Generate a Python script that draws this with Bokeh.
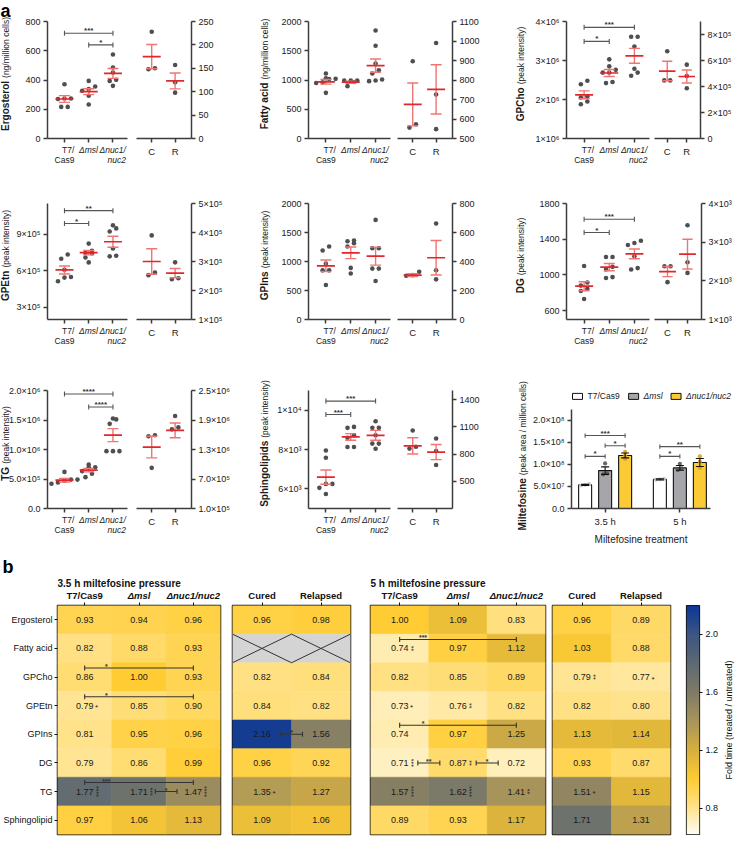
import math
from math import pi
import numpy as np
from bokeh.plotting import figure
from bokeh.layouts import row, column
from bokeh.models import Range1d, FixedTicker, ColumnDataSource, LinearColorMapper
from bokeh.core.properties import value
from bokeh.embed import file_html
from bokeh.resources import INLINE

NAN = float("nan")
FONT = "Liberation Sans"

# ---------------- data: panel a (scatter panels) ----------------
STRAIN_TICK_LABELS = ["T7/\nCas9", "Δmsl", "Δnuc1/\nnuc2"]
STRAIN_TICK_STYLES = ["normal", "italic", "italic"]
CR_TICK_LABELS = ["C", "R"]

ERG_LEFT_TICKS = [0, 200, 400, 600, 800]
ERG_LEFT_LABELS = ["0", "200", "400", "600", "800"]
ERG_RIGHT_TICKS = [0, 50, 100, 150, 200, 250]
ERG_RIGHT_LABELS = ["0", "50", "100", "150", "200", "250"]
ERG_STRAIN_POINTS = [[371, 273, 273, 270, 216, 216], [394, 356, 338, 326, 292, 232], [574, 485, 451, 401, 394, 360]]
ERG_STRAIN_MEAN = [270, 320, 445]
ERG_STRAIN_SEM = [23, 20, 34]
ERG_CR_POINTS = [[228, 150, 148], [157, 120, 98]]
ERG_CR_MEAN = [175, 123]
ERG_CR_SEM = [26, 17]
ERG_SIG = [(0, 2, "***", 720), (1, 2, "*", 640)]

FA_LEFT_TICKS = [0, 500, 1000, 1500, 2000]
FA_LEFT_LABELS = ["0", "500", "1000", "1500", "2000"]
FA_RIGHT_TICKS = [500, 600, 700, 800, 900, 1000, 1100]
FA_RIGHT_LABELS = ["500", "600", "700", "800", "900", "1000", "1100"]
FA_STRAIN_POINTS = [[1110, 1030, 1020, 1015, 960, 950, 780], [990, 990, 990, 965, 895],
                    [1847, 1586, 1280, 1167, 1110, 1008, 991, 980]]
FA_STRAIN_MEAN = [969, 963, 1246]
FA_STRAIN_SEM = [40, 18, 113]
FA_CR_POINTS = [[896, 573, 556], [990, 726, 548]]
FA_CR_MEAN = [675, 752]
FA_CR_SEM = [110, 126]
FA_SIG = []

GPC_LEFT_TICKS = [1e6, 2e6, 3e6, 4e6]
GPC_LEFT_LABELS = ["1×10⁶", "2×10⁶", "3×10⁶", "4×10⁶"]
GPC_RIGHT_TICKS = [0, 2e5, 4e5, 6e5, 8e5]
GPC_RIGHT_LABELS = ["0", "2×10⁵", "4×10⁵", "6×10⁵", "8×10⁵"]
GPC_STRAIN_POINTS = [[2.48e6, 2.39e6, 2.08e6, 2.05e6, 1.95e6, 1.88e6],
                     [3.03e6, 2.85e6, 2.76e6, 2.69e6, 2.69e6, 2.45e6, 2.42e6],
                     [3.61e6, 3.61e6, 3.36e6, 2.79e6, 2.69e6, 2.61e6]]
GPC_STRAIN_MEAN = [2.12e6, 2.68e6, 3.12e6]
GPC_STRAIN_SEM = [0.1e6, 0.09e6, 0.19e6]
GPC_CR_POINTS = [[6.71e5, 4.47e5, 4.47e5], [5.68e5, 4.8e5, 3.87e5]]
GPC_CR_MEAN = [5.19e5, 4.77e5]
GPC_CR_SEM = [0.75e5, 0.5e5]
GPC_SIG = [(0, 2, "***", 3.85e6), (0, 1, "*", 3.49e6)]

GPE_LEFT_TICKS = [3e5, 6e5, 9e5]
GPE_LEFT_LABELS = ["3×10⁵", "6×10⁵", "9×10⁵"]
GPE_RIGHT_TICKS = [1e5, 2e5, 3e5, 4e5, 5e5]
GPE_RIGHT_LABELS = ["1×10⁵", "2×10⁵", "3×10⁵", "4×10⁵", "5×10⁵"]
GPE_STRAIN_POINTS = [[7.35e5, 7.0e5, 6.1e5, 5.5e5, 5.45e5, 5.15e5],
                     [8.25e5, 7.65e5, 7.5e5, 7.45e5, 7.1e5, 6.7e5],
                     [9.75e5, 9.5e5, 9.25e5, 7.85e5, 7.25e5, 7.2e5]]
GPE_STRAIN_MEAN = [6.08e5, 7.5e5, 8.4e5]
GPE_STRAIN_SEM = [0.33e5, 0.18e5, 0.45e5]
GPE_CR_POINTS = [[3.9e5, 2.62e5, 2.53e5], [2.97e5, 2.42e5, 2.39e5]]
GPE_CR_MEAN = [3.0e5, 2.6e5]
GPE_CR_SEM = [0.44e5, 0.16e5]
GPE_SIG = [(0, 2, "**", 10.96e5), (0, 1, "*", 9.9e5)]

GPI_LEFT_TICKS = [0, 500, 1000, 1500, 2000]
GPI_LEFT_LABELS = ["0", "500", "1000", "1500", "2000"]
GPI_RIGHT_TICKS = [0, 200, 400, 600, 800]
GPI_RIGHT_LABELS = ["0", "200", "400", "600", "800"]
GPI_STRAIN_POINTS = [[1258, 1190, 963, 847, 847, 595], [1360, 1348, 1314, 1258, 890, 793],
                     [1717, 1229, 1229, 878, 878, 663]]
GPI_STRAIN_MEAN = [925, 1150, 1093]
GPI_STRAIN_SEM = [100, 100, 155]
GPI_CR_POINTS = [[329, 306, 302], [662, 340, 277]]
GPI_CR_MEAN = [306, 426]
GPI_CR_SEM = [10, 119]
GPI_SIG = []

DG_LEFT_TICKS = [600, 1000, 1400, 1800]
DG_LEFT_LABELS = ["600", "1000", "1400", "1800"]
DG_RIGHT_TICKS = [1000, 2000, 3000, 4000]
DG_RIGHT_LABELS = ["1×10³", "2×10³", "3×10³", "4×10³"]
DG_STRAIN_POINTS = [[1100, 915, 880, 845, 820, 730], [1200, 1200, 1090, 1060, 975, 965],
                    [1383, 1357, 1335, 1209, 1076, 1061]]
DG_STRAIN_MEAN = [873, 1087, 1235]
DG_STRAIN_SEM = [50, 40, 55]
DG_CR_POINTS = [[2376, 2376, 1966], [3436, 2479, 2205]]
DG_CR_MEAN = [2239, 2692]
DG_CR_SEM = [130, 385]
DG_SIG = [(0, 2, "***", 1623), (0, 1, "*", 1475)]

TG_LEFT_TICKS = [0, 5e5, 1e6, 1.5e6, 2e6]
TG_LEFT_LABELS = ["0.0", "5.0×10⁵", "1.0×10⁶", "1.5×10⁶", "2.0×10⁶"]
TG_RIGHT_TICKS = [1e5, 7e5, 1.3e6, 1.9e6, 2.5e6]
TG_RIGHT_LABELS = ["1.0×10⁵", "7.0×10⁵", "1.3×10⁶", "1.9×10⁶", "2.5×10⁶"]
TG_STRAIN_POINTS = [[6.2e5, 4.9e5, 4.9e5, 4.7e5, 4.4e5, 4.2e5],
                    [7.46e5, 7.0e5, 7.0e5, 6.33e5, 5.88e5, 5.31e5],
                    [15.25e5, 15.1e5, 14.35e5, 9.72e5, 9.72e5, 9.72e5]]
TG_STRAIN_MEAN = [4.8e5, 6.5e5, 12.43e5]
TG_STRAIN_SEM = [0.3e5, 0.3e5, 1.1e5]
TG_CR_POINTS = [[15.9e5, 15.7e5, 9.27e5], [19.8e5, 17.5e5, 17.1e5]]
TG_CR_MEAN = [13.5e5, 16.9e5]
TG_CR_SEM = [2.2e5, 1.5e5]
TG_SIG = [(0, 2, "****", 1.94e6), (1, 2, "****", 1.72e6)]

SPH_LEFT_TICKS = [6000, 8000, 10000]
SPH_LEFT_LABELS = ["6×10³", "8×10³", "1×10⁴"]
SPH_RIGHT_TICKS = [500, 800, 1100, 1400]
SPH_RIGHT_LABELS = ["500", "800", "1100", "1400"]
SPH_STRAIN_POINTS = [[7950, 7580, 6250, 6250, 6050, 5740], [9150, 9100, 8720, 8600, 8130, 8130],
                     [9440, 9100, 9100, 8720, 8300, 8300, 8040]]
SPH_STRAIN_MEAN = [6596, 8638, 8723]
SPH_STRAIN_SEM = [360, 170, 250]
SPH_CR_POINTS = [[1060, 880, 860], [972, 833, 679]]
SPH_CR_MEAN = [890, 822]
SPH_CR_SEM = [90, 83]
SPH_SIG = [(0, 2, "***", 10460), (0, 1, "***", 9779)]

# ---------------- data: miltefosine bar chart ----------------
MILT_STRAINS = ["T7/Cas9", "Δmsl", "Δnuc1/nuc2"]
MILT_STRAIN_STYLES = ["normal", "italic", "italic"]
MILT_GROUPS = ["3.5 h", "5 h"]
MILT_MEAN = [[5.34e7, 6.58e7], [8.57e7, 9.19e7], [1.20e8, 1.04e8]]
MILT_SEM = [[0.12e7, 0.12e7], [0.85e7, 0.55e7], [0.55e7, 0.9e7]]
MILT_POINTS = [[[5.5e7, 5.35e7, 5.2e7], [6.7e7, 6.6e7, 6.5e7]],
               [[1.02e8, 7.95e7, 7.7e7], [1.01e8, 9.07e7, 8.7e7]],
               [[1.28e8, 1.2e8, 1.12e8], [1.18e8, 1.06e8, 9.2e7]]]
MILT_SIG = [(0, 0, 2, "***", 1.65e8), (0, 1, 2, "*", 1.42e8), (0, 0, 1, "*", 1.18e8),
            (1, 0, 2, "**", 1.40e8), (1, 0, 1, "*", 1.18e8)]
MILT_TICKS = [0, 5e7, 1e8, 1.5e8, 2e8]
MILT_TICK_LABELS = ["0.0", "5.0×10⁷", "1.0×10⁸", "1.5×10⁸", "2.0×10⁸"]
MILT_AXIS_MAX = 2.25e8

# ---------------- data: panel b heatmaps ----------------
LIPIDS = ["Ergosterol", "Fatty acid", "GPCho", "GPEtn", "GPIns", "DG", "TG", "Sphingolipid"]
HM_STRAIN_COLS = ["T7/Cas9", "Δmsl", "Δnuc1/nuc2"]
HM_STRAIN_STYLES = ["bold", "bold italic", "bold italic"]
HM_CR_COLS = ["Cured", "Relapsed"]
FOLD_35H_STRAINS = [[0.93, 0.94, 0.96], [0.82, 0.88, 0.93], [0.86, 1.00, 0.93], [0.79, 0.85, 0.90],
                    [0.81, 0.95, 0.96], [0.79, 0.86, 0.99], [1.77, 1.71, 1.47], [0.97, 1.06, 1.13]]
FOLD_35H_CR = [[0.96, 0.98], [NAN, NAN], [0.82, 0.84], [0.84, 0.82],
               [2.16, 1.56], [0.96, 0.92], [1.35, 1.27], [1.09, 1.06]]
FOLD_5H_STRAINS = [[1.00, 1.09, 0.83], [0.74, 0.97, 1.12], [0.82, 0.85, 0.89], [0.73, 0.76, 0.82],
                   [0.74, 0.97, 1.25], [0.71, 0.87, 0.72], [1.57, 1.62, 1.41], [0.89, 0.93, 1.17]]
FOLD_5H_CR = [[0.96, 0.89], [1.03, 0.88], [0.79, 0.77], [0.82, 0.80],
              [1.13, 1.14], [0.93, 0.87], [1.51, 1.15], [1.71, 1.31]]
# (block, row, col, stars)   blocks: 0=3.5h strains, 1=3.5h C/R, 2=5h strains, 3=5h C/R
HM_STARS = [(0, 3, 0, "*"), (0, 6, 0, "****"), (0, 6, 1, "***"), (0, 6, 2, "****"),
            (1, 6, 0, "*"),
            (2, 1, 0, "**"), (2, 3, 0, "*"), (2, 3, 1, "**"), (2, 5, 0, "***"), (2, 5, 1, "**"),
            (2, 6, 0, "****"), (2, 6, 1, "****"), (2, 6, 2, "**"),
            (3, 2, 0, "**"), (3, 2, 1, "*"), (3, 6, 0, "*")]
# (block, row, col_a, col_b, stars)
HM_COMPARISONS = [(0, 2, 0, 2, "*"), (0, 3, 0, 2, "*"), (0, 6, 0, 2, "***"), (0, 6, 1, 2, "*"),
                  (1, 4, 0, 1, "*"),
                  (2, 1, 0, 2, "***"), (2, 4, 0, 2, "*"), (2, 5, 0, 1, "**"), (2, 5, 1, 2, "*")]
CB_TICKS = [0.8, 1.2, 1.6, 2.0]
CB_TICK_LABELS = ["0.8", "1.2", "1.6", "2.0"]
CB_LOW, CB_HIGH = 0.62, 2.2
CMAP_STOPS = [0.62, 0.8, 1.0, 1.2, 1.4, 1.6, 1.8, 2.0, 2.2]
CMAP_COLORS = ["#FFFDF4", "#FFE38C", "#FFCC33", "#D6B03F", "#A8955A", "#7F7B66", "#5E6A72", "#3D5682", "#0B3796"]

# ---------------- helpers ----------------
_LOW = "abcdefghijklmnopqrstuvwxyz"
_UP = "ABCDEFGHIJKLMNOPQRSTUVWXYZ"
_REG = dict(zip(_LOW, [556, 556, 500, 556, 556, 278, 556, 556, 222, 222, 500, 222, 833, 556, 556, 556, 556, 333, 500, 278, 556, 500, 722, 500, 500, 500]))
_REG.update(zip(_UP, [667, 667, 722, 722, 667, 611, 778, 722, 278, 500, 667, 556, 833, 722, 778, 667, 778, 722, 667, 611, 722, 667, 944, 667, 667, 611]))
_BOLD = dict(zip(_LOW, [556, 611, 556, 611, 556, 333, 611, 611, 278, 278, 556, 278, 889, 611, 611, 611, 611, 389, 556, 333, 611, 556, 778, 556, 556, 500]))
_BOLD.update(zip(_UP, [722, 722, 722, 722, 667, 611, 778, 722, 278, 556, 722, 611, 833, 722, 778, 667, 778, 722, 667, 611, 722, 667, 944, 667, 667, 611]))
for _t in (_REG, _BOLD):
    _t.update({c: 556 for c in "0123456789"})
    _t.update({" ": 278, "(": 333, ")": 333, "/": 278, ".": 278, "Δ": 612, "×": 584})


def twidth(s, size, bold=False):
    t = _BOLD if bold else _REG
    return sum(t.get(ch, 556) for ch in s) * size / 1000.0


def add_text(p, xs, ys, texts, size=9, style="normal", align="center", baseline="middle",
             angle=0.0, xo=0, yo=0, color="#1a1a1a"):
    n = len(texts)
    xo = list(xo) if isinstance(xo, (list, tuple)) else [xo] * n
    yo = list(yo) if isinstance(yo, (list, tuple)) else [yo] * n
    src = ColumnDataSource(dict(x=list(xs), y=list(ys), t=list(texts), xo=xo, yo=yo))
    r = p.text(x="x", y="y", text="t", source=src, text_font=value(FONT),
               text_font_size=value(f"{size}px"), text_font_style=value(style),
               text_align=value(align), text_baseline=value(baseline), angle=angle,
               x_offset="xo", y_offset="yo", text_color=color)
    r.level = "overlay"
    return r


AX_COLOR = "#3c3c3c"


def base_fig(width, height, xr, yr, bl, br, bt, bb, **kw):
    p = figure(width=width, height=height, x_range=xr, y_range=yr, output_backend="svg",
               toolbar_location=None, title=None, min_border_left=bl, min_border_right=br,
               min_border_top=bt, min_border_bottom=bb, **kw)
    p.xgrid.visible = False
    p.ygrid.visible = False
    p.outline_line_color = None
    for ax in list(p.xaxis) + list(p.yaxis):
        ax.axis_line_color = AX_COLOR
        ax.axis_line_width = 1.5
        ax.major_tick_line_color = AX_COLOR
        ax.major_tick_line_width = 1.5
        ax.major_tick_out = 4
        ax.major_tick_in = 0
        ax.minor_tick_line_color = None
        ax.major_label_text_font = FONT
        ax.major_label_text_font_size = "9px"
        ax.major_label_text_color = "#1a1a1a"
        ax.major_label_standoff = 3
    return p


def swarm(vals, ppu, d=5.0, sep=6.5):
    pix = [v * ppu for v in vals]
    order = sorted(range(len(vals)), key=lambda i: pix[i])
    rows = []
    for i in order:
        if rows and abs(pix[i] - pix[rows[-1][0]]) < d * 0.9:
            rows[-1].append(i)
        else:
            rows.append([i])
    offs = [0.0] * len(vals)
    for r in rows:
        n = len(r)
        for k, i in enumerate(r):
            offs[i] = (k - (n - 1) / 2.0) * sep
    return offs


MEAN_COLOR = "#E3262B"
WHISK_COLOR = "#EF7474"


def draw_scatter(p, xs, pts, means, sems, rng, fh, unit):
    ppu = fh / (rng[1] - rng[0])
    X, Y = [], []
    for xc, vals in zip(xs, pts):
        offs = swarm(vals, ppu)
        X += [xc + o / unit for o in offs]
        Y += list(vals)
    p.scatter(x=X, y=Y, size=4.6, fill_color="#4f4f4f", line_color=None)
    mw = 9.0 / unit
    cw = 5.5 / unit
    lo = [m - s for m, s in zip(means, sems)]
    hi = [m + s for m, s in zip(means, sems)]
    p.segment(x0=xs, y0=lo, x1=xs, y1=hi, line_color=WHISK_COLOR, line_width=1.4)
    p.segment(x0=[x - cw for x in xs] * 2, y0=lo + hi, x1=[x + cw for x in xs] * 2, y1=lo + hi,
              line_color=WHISK_COLOR, line_width=1.4)
    p.segment(x0=[x - mw for x in xs], y0=means, x1=[x + mw for x in xs], y1=means,
              line_color=MEAN_COLOR, line_width=1.7)


def draw_brackets(p, xa_list, xb_list, ys, labels, ppu, color="#555555", star_frac=0.5, size=8):
    dy = 2.5 / ppu
    p.segment(x0=xa_list, y0=ys, x1=xb_list, y1=ys, line_color=color, line_width=1.1)
    p.segment(x0=xa_list + xb_list, y0=[y - dy for y in ys] * 2, x1=xa_list + xb_list,
              y1=[y + dy for y in ys] * 2, line_color=color, line_width=1.1)
    sx = [a + star_frac * (b - a) for a, b in zip(xa_list, xb_list)]
    add_text(p, sx, ys, labels, size=size, style="bold", baseline="bottom", yo=2, color="#333333")


TICK_FS = 8.5


def strain_ticklabels(p, xs, y0):
    for x, lab, sty in zip(xs, STRAIN_TICK_LABELS, STRAIN_TICK_STYLES):
        lines = lab.split("\n")
        wmax = max(twidth(l, TICK_FS) for l in lines)
        for k, l in enumerate(lines):
            add_text(p, [x], [y0], [l], size=TICK_FS, style=sty, align="right", xo=wmax / 2.0, yo=11 + 10 * k)


def ylabel(p, x, y, bold, normal, xo, shift=6):
    wb = twidth(bold, 10, True)
    wn = twidth(normal, 8.5)
    gap = 3
    a = (wb - wn - gap) / 2.0
    add_text(p, [x], [y], [bold], size=10, style="bold", align="right", angle=pi / 2, xo=xo, yo=-(a + shift))
    add_text(p, [x], [y], [normal], size=8.5, align="left", angle=pi / 2, xo=xo, yo=-(a + gap + shift))


XL_RANGE = (0.3, 3.6)
XR_RANGE = (0.35, 2.7)


def panel(cfg, col, vg, letter=None):
    x0, axL, fwL, rfs, fwR, x1, xo_lab = col
    bt, fh, bb = vg
    split = (axL + fwL + rfs) // 2
    H = bt + fh + bb
    lr, rr = cfg["lrange"], cfg["rrange"]
    pL = base_fig(split - x0, H, Range1d(*XL_RANGE), Range1d(*lr), axL - x0, split - axL - fwL, bt, bb)
    pL.yaxis.ticker = FixedTicker(ticks=cfg["lticks"])
    pL.yaxis.major_label_overrides = dict(zip(cfg["lticks"], cfg["llabels"]))
    pL.xaxis.ticker = FixedTicker(ticks=[1, 2, 3])
    pL.xaxis.major_label_text_color = None
    unitL = fwL / (XL_RANGE[1] - XL_RANGE[0])
    xs = [1, 2, 3]
    draw_scatter(pL, xs, cfg["spts"], cfg["smean"], cfg["ssem"], lr, fh, unitL)
    if cfg["sig"]:
        draw_brackets(pL, [xs[s[0]] for s in cfg["sig"]], [xs[s[1]] for s in cfg["sig"]],
                      [s[3] for s in cfg["sig"]], [s[2] for s in cfg["sig"]], fh / (lr[1] - lr[0]))
    strain_ticklabels(pL, xs, lr[0])
    ylabel(pL, XL_RANGE[0], (lr[0] + lr[1]) / 2.0, cfg["name"], cfg["unit"], xo_lab)
    if letter:
        add_text(pL, [XL_RANGE[0]], [lr[1]], [letter], size=18, style="bold", align="left",
                 baseline="top", xo=-(axL - x0), yo=-bt, color="#000000")

    pR = base_fig(x1 - split, H, Range1d(*XR_RANGE), Range1d(*rr), rfs - split, x1 - rfs - fwR, bt, bb,
                  y_axis_location="right")
    pR.yaxis.ticker = FixedTicker(ticks=cfg["rticks"])
    pR.yaxis.major_label_overrides = dict(zip(cfg["rticks"], cfg["rlabels"]))
    pR.xaxis.ticker = FixedTicker(ticks=[1, 2])
    pR.xaxis.major_label_overrides = {1: CR_TICK_LABELS[0], 2: CR_TICK_LABELS[1]}
    pR.xaxis.major_label_text_font_size = "9.5px"
    unitR = fwR / (XR_RANGE[1] - XR_RANGE[0])
    draw_scatter(pR, [1, 2], cfg["cpts"], cfg["cmean"], cfg["csem"], rr, fh, unitR)
    return [pL, pR]


def cfg_of(name, unit, lrange, rrange, lt, ll, rt, rl, sp, sm, ss, cp, cm, cs, sig):
    return dict(name=name, unit=unit, lrange=lrange, rrange=rrange, lticks=lt, llabels=ll,
                rticks=rt, rlabels=rl, spts=sp, smean=sm, ssem=ss, cpts=cp, cmean=cm, csem=cs, sig=sig)


COL_A = (0, 47, 80, 136, 55, 240, -42)
COL_B = (240, 308, 82, 397, 55, 500, -44)
COL_C = (500, 566, 83, 654, 50, 734, -46)
VG1 = (21, 117, 40)
VG2 = (25, 116, 31)
VG3 = (40, 118, 48)

erg = panel(cfg_of("Ergosterol", "(ng/million cells)", (0, 800), (0, 250), ERG_LEFT_TICKS, ERG_LEFT_LABELS,
                   ERG_RIGHT_TICKS, ERG_RIGHT_LABELS, ERG_STRAIN_POINTS, ERG_STRAIN_MEAN, ERG_STRAIN_SEM,
                   ERG_CR_POINTS, ERG_CR_MEAN, ERG_CR_SEM, ERG_SIG), COL_A, VG1, letter="a")
fa = panel(cfg_of("Fatty acid", "(ng/million cells)", (0, 2000), (500, 1100), FA_LEFT_TICKS, FA_LEFT_LABELS,
                  FA_RIGHT_TICKS, FA_RIGHT_LABELS, FA_STRAIN_POINTS, FA_STRAIN_MEAN, FA_STRAIN_SEM,
                  FA_CR_POINTS, FA_CR_MEAN, FA_CR_SEM, FA_SIG), COL_B, VG1)
gpc = panel(cfg_of("GPCho", "(peak intensity)", (1e6, 4e6), (0, 9e5), GPC_LEFT_TICKS, GPC_LEFT_LABELS,
                   GPC_RIGHT_TICKS, GPC_RIGHT_LABELS, GPC_STRAIN_POINTS, GPC_STRAIN_MEAN, GPC_STRAIN_SEM,
                   GPC_CR_POINTS, GPC_CR_MEAN, GPC_CR_SEM, GPC_SIG), COL_C, VG1)
gpe = panel(cfg_of("GPEtn", "(peak intensity)", (2e5, 1.155e6), (1e5, 5e5), GPE_LEFT_TICKS, GPE_LEFT_LABELS,
                   GPE_RIGHT_TICKS, GPE_RIGHT_LABELS, GPE_STRAIN_POINTS, GPE_STRAIN_MEAN, GPE_STRAIN_SEM,
                   GPE_CR_POINTS, GPE_CR_MEAN, GPE_CR_SEM, GPE_SIG), COL_A, VG2)
gpi = panel(cfg_of("GPIns", "(peak intensity)", (0, 2000), (0, 800), GPI_LEFT_TICKS, GPI_LEFT_LABELS,
                   GPI_RIGHT_TICKS, GPI_RIGHT_LABELS, GPI_STRAIN_POINTS, GPI_STRAIN_MEAN, GPI_STRAIN_SEM,
                   GPI_CR_POINTS, GPI_CR_MEAN, GPI_CR_SEM, GPI_SIG), COL_B, VG2)
dg = panel(cfg_of("DG", "(peak intensity)", (500, 1800), (1000, 4000), DG_LEFT_TICKS, DG_LEFT_LABELS,
                  DG_RIGHT_TICKS, DG_RIGHT_LABELS, DG_STRAIN_POINTS, DG_STRAIN_MEAN, DG_STRAIN_SEM,
                  DG_CR_POINTS, DG_CR_MEAN, DG_CR_SEM, DG_SIG), COL_C, VG2)
tg = panel(cfg_of("TG", "(peak intensity)", (0, 2e6), (1e5, 2.5e6), TG_LEFT_TICKS, TG_LEFT_LABELS,
                  TG_RIGHT_TICKS, TG_RIGHT_LABELS, TG_STRAIN_POINTS, TG_STRAIN_MEAN, TG_STRAIN_SEM,
                  TG_CR_POINTS, TG_CR_MEAN, TG_CR_SEM, TG_SIG), COL_A, VG3)
sph = panel(cfg_of("Sphingolipids", "(peak intensity)", (5000, 11000), (200, 1500), SPH_LEFT_TICKS,
                   SPH_LEFT_LABELS, SPH_RIGHT_TICKS, SPH_RIGHT_LABELS, SPH_STRAIN_POINTS, SPH_STRAIN_MEAN,
                   SPH_STRAIN_SEM, SPH_CR_POINTS, SPH_CR_MEAN, SPH_CR_SEM, SPH_SIG), COL_B, VG3)

# ---------------- bar chart ----------------
# frame extends over the legend area; the axes are bounded to the plotted region
BAR_AX_PX = 139.0          # x axis length in px
BAR_FRAME_W = 161          # frame width in px (legend needs room on the right)
BAR_PLOT_H = 118.0         # y axis length in px
BAR_FRAME_H = 140          # frame height in px (legend sits above the axis)
BX0, BX_AXIS_END = -0.45, 1.41
BAR_UNIT = BAR_AX_PX / (BX_AXIS_END - BX0)
BX1 = BX0 + BAR_FRAME_W / BAR_UNIT
ppu_bar = BAR_PLOT_H / MILT_AXIS_MAX
BY1 = BAR_FRAME_H / ppu_bar
BAR_BT, BAR_BB = 18, 48
bar = base_fig(234, BAR_BT + BAR_FRAME_H + BAR_BB, Range1d(BX0, BX1), Range1d(0, BY1), 71,
               234 - 71 - BAR_FRAME_W, BAR_BT, BAR_BB)
bar.xaxis.bounds = (BX0, BX_AXIS_END)
bar.yaxis.bounds = (0, MILT_AXIS_MAX)
bar.yaxis.ticker = FixedTicker(ticks=MILT_TICKS)
bar.yaxis.major_label_overrides = dict(zip(MILT_TICKS, MILT_TICK_LABELS))
bar.xaxis.ticker = FixedTicker(ticks=[0, 1])
bar.xaxis.major_label_overrides = {0: MILT_GROUPS[0], 1: MILT_GROUPS[1]}
bar.xaxis.major_label_text_font_size = "9.5px"
ylabel(bar, BX0, MILT_AXIS_MAX / 2.0, "Miltefosine", "(peak area / million cells)", -49, shift=3)
add_text(bar, [(BX0 + BX_AXIS_END) / 2.0], [0], ["Miltefosine treatment"], size=10, yo=31, color="#1a1a1a")

OFF = 20.0 / BAR_UNIT
BW = 13.0 / BAR_UNIT
BAR_FILL = ["#FFFFFF", "#A6A6AA", "#FBCB35"]
PT_COLOR = ["#C9C9C9", "#555555", "#D99E22"]
for k in range(3):
    xs = [g + (k - 1) * OFF for g in range(2)]
    bar.vbar(x=xs, width=BW, top=MILT_MEAN[k], bottom=0, fill_color=BAR_FILL[k],
             line_color="#111111", line_width=1.1)
for k in range(3):
    X, Y = [], []
    for g in range(2):
        xc = g + (k - 1) * OFF
        offs = swarm(MILT_POINTS[k][g], ppu_bar, d=4.0, sep=4.0)
        X += [xc + o / BAR_UNIT for o in offs]
        Y += MILT_POINTS[k][g]
    bar.scatter(x=X, y=Y, size=4.2, fill_color=PT_COLOR[k], line_color=None, fill_alpha=0.9)
for k in range(3):
    xs = [g + (k - 1) * OFF for g in range(2)]
    lo = [m - s for m, s in zip(MILT_MEAN[k], MILT_SEM[k])]
    hi = [m + s for m, s in zip(MILT_MEAN[k], MILT_SEM[k])]
    cw = 4.0 / BAR_UNIT
    bar.segment(x0=xs, y0=lo, x1=xs, y1=hi, line_color="#111111", line_width=1.1)
    bar.segment(x0=[x - cw for x in xs] * 2, y0=lo + hi, x1=[x + cw for x in xs] * 2, y1=lo + hi,
                line_color="#111111", line_width=1.1)
draw_brackets(bar, [s[0] + (s[1] - 1) * OFF for s in MILT_SIG], [s[0] + (s[2] - 1) * OFF for s in MILT_SIG],
              [s[4] for s in MILT_SIG], [s[3] for s in MILT_SIG], ppu_bar)

# legend (drawn inside the frame, above the y axis end)
LEG_FS = 8.5
leg_y = BY1 - 7.0 / ppu_bar
lx = 1.0
for k in range(3):
    bar.rect(x=[BX0 + (lx + 5) / BAR_UNIT], y=[leg_y], width=10, height=6, width_units="screen",
             height_units="screen", fill_color=BAR_FILL[k], line_color="#111111", line_width=1)
    add_text(bar, [BX0 + (lx + 15) / BAR_UNIT], [leg_y], [MILT_STRAINS[k]], size=LEG_FS,
             style=MILT_STRAIN_STYLES[k], align="left", color="#1a1a1a")
    lx += 10 + 5 + twidth(MILT_STRAINS[k], LEG_FS) + 9

# ---------------- heatmaps ----------------
def build_palette(stops, colors, n=256):
    rgb = [tuple(int(c[i:i + 2], 16) for i in (1, 3, 5)) for c in colors]
    out = []
    for i in range(n):
        v = stops[0] + (stops[-1] - stops[0]) * i / (n - 1)
        j = max(0, min(len(stops) - 2, np.searchsorted(stops, v, side="right") - 1))
        t = (v - stops[j]) / (stops[j + 1] - stops[j])
        c = [round(rgb[j][m] + (rgb[j + 1][m] - rgb[j][m]) * t) for m in range(3)]
        out.append("#%02x%02x%02x" % tuple(c))
    return out


mapper = LinearColorMapper(palette=build_palette(CMAP_STOPS, CMAP_COLORS), low=CB_LOW, high=CB_HIGH,
                           nan_color="#D4D4D4")
HBT, HFH, HBB = 49, 229, 2
ROW_PX = HFH / 8.0


def heat_fig(block, data, ncols, width, bl, br, row_labels=False, axis_cols=None, headers=None,
             title=None, letter=None):
    fw = width - bl - br
    col_px = fw / float(ncols)
    p = figure(width=width, height=HBT + HFH + HBB, x_range=Range1d(0, ncols), y_range=Range1d(0, 8),
               x_axis_location="above", output_backend="svg", toolbar_location=None, title=None,
               min_border_left=bl, min_border_right=br, min_border_top=HBT, min_border_bottom=HBB)
    p.xgrid.visible = False
    p.ygrid.visible = False
    p.outline_line_color = "#111111"
    p.outline_line_width = 1.5
    xs, ys, vs = [], [], []
    for r in range(8):
        for c in range(ncols):
            xs.append(c + 0.5)
            ys.append(7.5 - r)
            vs.append(data[r][c])
    src = ColumnDataSource(dict(x=xs, y=ys, v=np.array(vs, dtype=float)))
    p.rect(x="x", y="y", width=1, height=1, source=src, fill_color={"field": "v", "transform": mapper},
           line_color={"field": "v", "transform": mapper}, line_width=0.6)
    ok = [i for i, v in enumerate(vs) if not math.isnan(v)]
    add_text(p, [xs[i] for i in ok], [ys[i] for i in ok], ["%.2f" % vs[i] for i in ok], size=9)
    bad = [i for i, v in enumerate(vs) if math.isnan(v)]
    if bad:
        x0 = [xs[i] - 0.5 for i in bad] * 2
        x1 = [xs[i] + 0.5 for i in bad] * 2
        y0 = [ys[i] - 0.5 for i in bad] + [ys[i] + 0.5 for i in bad]
        y1 = [ys[i] + 0.5 for i in bad] + [ys[i] - 0.5 for i in bad]
        p.segment(x0=x0, y0=y0, x1=x1, y1=y1, line_color="#333333", line_width=1)
    for (b, r, c, s) in HM_STARS:
        if b != block:
            continue
        if len(s) > 1:
            add_text(p, [c + 0.5], [7.5 - r], [s], size=7, angle=pi / 2, xo=13.5, yo=0, color="#222222")
        else:
            add_text(p, [c + 0.5], [7.5 - r], [s], size=8, xo=12, yo=2, color="#222222")
    for (b, r, ca, cb_, s) in HM_COMPARISONS:
        if b != block:
            continue
        yc = 7.5 - r
        if cb_ - ca > 1:
            y = yc + 9.0 / ROW_PX
            draw_brackets(p, [ca + 0.5], [cb_ + 0.5], [y], [s], ROW_PX, color="#333333",
                          star_frac=0.2, size=7)
        else:
            half = 11.0 / col_px
            draw_brackets(p, [cb_ - half], [cb_ + half], [yc], [s], ROW_PX, color="#333333",
                          star_frac=0.5, size=7)
    xa = p.xaxis[0]
    xa.ticker = FixedTicker(ticks=[c + 0.5 for c in range(ncols)])
    xa.axis_line_color = None
    xa.major_tick_line_color = "#111111"
    xa.major_tick_out = 3
    xa.major_tick_in = 0
    xa.minor_tick_line_color = None
    xa.major_label_standoff = 2
    xa.major_label_text_font = FONT
    xa.major_label_text_font_size = "9.5px"
    xa.major_label_text_font_style = "bold"
    xa.major_label_text_color = "#111111"
    if axis_cols:
        xa.major_label_overrides = {c + 0.5: axis_cols[c] for c in range(ncols)}
    else:
        xa.major_label_text_color = None
    if headers:
        for c in range(ncols):
            add_text(p, [c + 0.5], [8], [headers[c]], size=9.5, style=HM_STRAIN_STYLES[c], yo=-10,
                     color="#111111")
    if title:
        add_text(p, [0], [8], [title], size=10, style="bold", align="left", yo=-22, color="#111111")
    if letter:
        add_text(p, [0], [8], [letter], size=18, style="bold", align="left", baseline="top",
                 xo=-bl, yo=-HBT, color="#000000")
    ya = p.yaxis[0]
    if row_labels:
        ya.ticker = FixedTicker(ticks=[7.5 - r for r in range(8)])
        ya.major_label_overrides = {7.5 - r: LIPIDS[r] for r in range(8)}
        ya.axis_line_color = None
        ya.major_tick_line_color = "#111111"
        ya.major_tick_out = 3
        ya.major_tick_in = 0
        ya.minor_tick_line_color = None
        ya.major_label_standoff = 2
        ya.major_label_text_font = FONT
        ya.major_label_text_font_size = "9px"
        ya.major_label_text_color = "#111111"
    else:
        ya.visible = False
    return p


h1 = heat_fig(0, FOLD_35H_STRAINS, 3, 224, 55, 4, row_labels=True, headers=HM_STRAIN_COLS,
              title="3.5 h miltefosine pressure", letter="b")
h2 = heat_fig(1, FOLD_35H_CR, 2, 128, 8, 2, axis_cols=HM_CR_COLS)
h3 = heat_fig(2, FOLD_5H_STRAINS, 3, 196, 18, 3, headers=HM_STRAIN_COLS, title="5 h miltefosine pressure")
h4 = heat_fig(3, FOLD_5H_CR, 2, 126, 4, 4, axis_cols=HM_CR_COLS)

cb = figure(width=60, height=HBT + HFH + HBB, x_range=Range1d(0, 1), y_range=Range1d(CB_LOW, CB_HIGH),
            y_axis_location="right", output_backend="svg", toolbar_location=None, title=None,
            min_border_left=12, min_border_right=35, min_border_top=HBT, min_border_bottom=HBB)
cb.xgrid.visible = False
cb.ygrid.visible = False
grad = np.linspace(CB_LOW, CB_HIGH, 256).reshape(256, 1)
cb.image(image=[grad], x=0, y=CB_LOW, dw=1, dh=CB_HIGH - CB_LOW, color_mapper=mapper)
cb.outline_line_color = "#111111"
cb.outline_line_width = 1.2
cb.xaxis.visible = False
cya = cb.yaxis[0]
cya.ticker = FixedTicker(ticks=CB_TICKS)
cya.major_label_overrides = dict(zip(CB_TICKS, CB_TICK_LABELS))
cya.axis_line_color = None
cya.major_tick_line_color = "#111111"
cya.major_tick_out = 3
cya.major_tick_in = 0
cya.minor_tick_line_color = None
cya.major_label_standoff = 3
cya.major_label_text_font = FONT
cya.major_label_text_font_size = "9px"
cya.major_label_text_color = "#111111"
add_text(cb, [1], [(CB_LOW + CB_HIGH) / 2.0], ["Fold time (treated / untreated)"], size=9,
         angle=pi / 2, xo=29, color="#111111")

layout = column(
    row(*erg, *fa, *gpc),
    row(*gpe, *gpi, *dg),
    row(*tg, *sph, bar),
    row(h1, h2, h3, h4, cb),
)

open("out.html", "w").write(file_html(layout, INLINE, "Lipidomics"))
